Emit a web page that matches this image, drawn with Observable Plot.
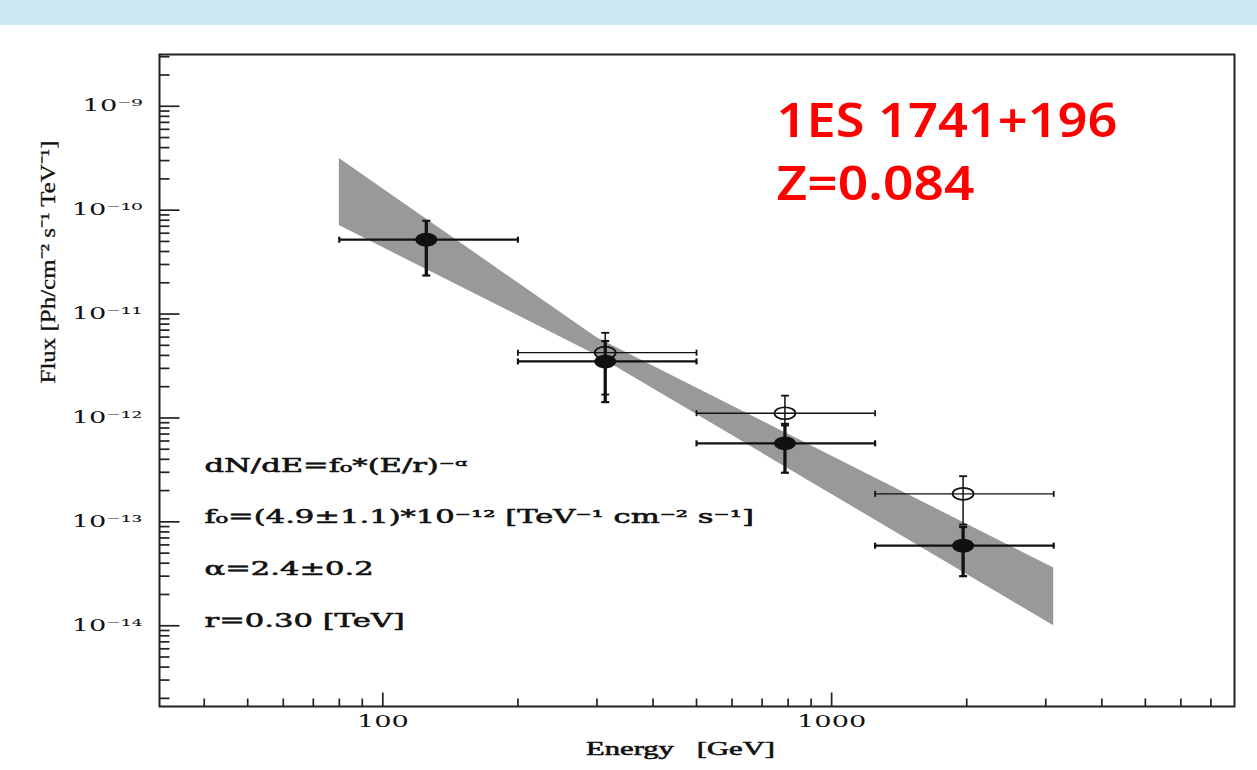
<!DOCTYPE html>
<html>
<head>
<meta charset="utf-8">
<script src="https://cdn.jsdelivr.net/npm/d3@7"></script>
<script src="https://cdn.jsdelivr.net/npm/@observablehq/plot@0.6"></script>
<style>
html, body { margin: 0; padding: 0; background: #fff; }
#page { position: relative; width: 1257px; height: 770px; overflow: hidden; background: #fff; }
#bar { position: absolute; left: 0; top: 0; width: 1257px; height: 25px; background: #cfe8f6; }
#chart { position: absolute; left: 0; top: 25px; }
#chart text { white-space: pre; }
</style>
</head>
<body>
<div id="page"><div id="bar"></div><div id="chart"></div></div>
<script>
// ---- data ----
const energy = [125, 313, 787, 1963];              // GeV, filled points
const binLow = [80, 200, 500, 1250];
const binHigh = [200, 500, 1250, 3125];
const fluxFilled = [5.2e-11, 3.5e-12, 5.7e-13, 5.9e-14];
const fluxFilledHigh = [7.9e-11, 5.5e-12, 8.5e-13, 8.9e-14];
const fluxFilledLow = [2.35e-11, 1.42e-12, 2.97e-13, 3.0e-14];

const openEnergy = [313, 787, 1963];                // open circles
const openBinLow = [200, 500, 1250];
const openBinHigh = [500, 1250, 3125];
const fluxOpen = [4.25e-12, 1.11e-12, 1.86e-13];
const fluxOpenHigh = [6.6e-12, 1.64e-12, 2.75e-13];
const fluxOpenLow = [1.68e-12, 8.8e-13, 9.4e-14];

const bandEnergy = [80, 300, 3125];                 // fit butterfly
const bandLow = [7.1e-11, 4.0e-12, 1.0e-14];
const bandHigh = [3.15e-10, 5.9e-12, 3.6e-14];

const xMajorTicks = [100, 1000];
const xTickLabels = ["100", "1000"];
const xMinorTicks = [40, 50, 60, 70, 80, 90, 200, 300, 400, 500, 600, 700, 800, 900, 2000, 3000, 4000, 5000, 6000, 7000];
const yMajorTicks = [1e-14, 1e-13, 1e-12, 1e-11, 1e-10, 1e-9];
const yTickLabels = ["10⁻¹⁴", "10⁻¹³", "10⁻¹²", "10⁻¹¹", "10⁻¹⁰", "10⁻⁹"];
const yMinorMultipliers = [2, 3, 4, 5, 6, 7, 8, 9];
const yMinorExponents = [-15, -14, -13, -12, -11, -10, -9];

const fitLines = ["dN/dE=f₀*(E/r)⁻ᵅ", "f₀=(4.9±1.1)*10⁻¹² [TeV⁻¹ cm⁻² s⁻¹]", "α=2.4±0.2", "r=0.30 [TeV]"];
const sourceLines = ["1ES 1741+196", "Z=0.084"];
const xTitle = "Energy   [GeV]";
const yTitle = "Flux [Ph/cm⁻² s⁻¹ TeV⁻¹]";

// ---- tables ----
const xDomain = [31.8, 7900];
const yDomain = [1.67e-15, 3.15e-9];
const filledRows = energy.map((E, i) => ({E, lo: binLow[i], hi: binHigh[i], f: fluxFilled[i], fLo: fluxFilledLow[i], fHi: fluxFilledHigh[i]}));
const openRows = openEnergy.map((E, i) => ({E, lo: openBinLow[i], hi: openBinHigh[i], f: fluxOpen[i], fLo: fluxOpenLow[i], fHi: fluxOpenHigh[i]}));
const bandRows = bandEnergy.map((E, i) => ({E, lo: bandLow[i], hi: bandHigh[i]}));
const yMinorTicks = yMinorExponents.flatMap(e => yMinorMultipliers.map(k => k * Math.pow(10, e))).filter(v => v > yDomain[0] && v < yDomain[1]);

// ---- symbols ----
function ellipse(rx, ry) {
  const k = 0.5523;
  return {draw(c) {
    c.moveTo(rx, 0);
    c.bezierCurveTo(rx, ry * k, rx * k, ry, 0, ry);
    c.bezierCurveTo(-rx * k, ry, -rx, ry * k, -rx, 0);
    c.bezierCurveTo(-rx, -ry * k, -rx * k, -ry, 0, -ry);
    c.bezierCurveTo(rx * k, -ry, rx, -ry * k, rx, 0);
    c.closePath();
  }};
}
const hCap = (len) => ({draw(c) { c.moveTo(-len / 2, 0); c.lineTo(len / 2, 0); }});
const vCap = (len) => ({draw(c) { c.moveTo(0, -len / 2); c.lineTo(0, len / 2); }});
const tickRight = (len) => ({draw(c) { c.moveTo(0, 0); c.lineTo(len, 0); }});
const tickUp = (len) => ({draw(c) { c.moveTo(0, 0); c.lineTo(0, -len); }});

const INK = "#111";
const textInk = {fill: INK, stroke: INK, strokeWidth: 0.55};

function errorMarks(rows, hw, vw, capW) {
  return [
    Plot.ruleY(rows, {y: "f", x1: "lo", x2: "hi", stroke: INK, strokeWidth: hw}),
    Plot.ruleX(rows, {x: "E", y1: "fLo", y2: "fHi", stroke: INK, strokeWidth: vw}),
    Plot.dot(rows, {x: "lo", y: "f", symbol: vCap(6), fill: "none", stroke: INK, strokeWidth: capW}),
    Plot.dot(rows, {x: "hi", y: "f", symbol: vCap(6), fill: "none", stroke: INK, strokeWidth: capW}),
    Plot.dot(rows, {x: "E", y: "fLo", symbol: hCap(8), fill: "none", stroke: INK, strokeWidth: capW}),
    Plot.dot(rows, {x: "E", y: "fHi", symbol: hCap(8), fill: "none", stroke: INK, strokeWidth: capW})
  ];
}

const LABEL_SIZE = 46;
const LABEL_LEAD = 63;
const labelWidths = [341, 198];

const plot = Plot.plot({
  width: 1257,
  height: 745,
  marginLeft: 159,
  marginRight: 23,
  marginTop: 29,
  marginBottom: 64,
  x: {type: "log", domain: xDomain},
  y: {type: "log", domain: yDomain},
  style: {fontFamily: "DejaVu Serif", fontSize: "16px", color: "#000", background: "transparent"},
  marks: [
    Plot.areaY(bandRows, {x: "E", y1: "lo", y2: "hi", fill: "#999999"}),
    // axis ticks (inward)
    Plot.dot(yMajorTicks, {y: d => d, frameAnchor: "left", symbol: tickRight(20), fill: "none", stroke: "#222", strokeWidth: 1.7}),
    Plot.dot(yMinorTicks, {y: d => d, frameAnchor: "left", symbol: tickRight(10), fill: "none", stroke: "#222", strokeWidth: 1.7}),
    Plot.dot(xMajorTicks, {x: d => d, frameAnchor: "bottom", symbol: tickUp(14), fill: "none", stroke: "#222", strokeWidth: 1.7}),
    Plot.dot(xMinorTicks, {x: d => d, frameAnchor: "bottom", symbol: tickUp(8), fill: "none", stroke: "#222", strokeWidth: 1.7}),
    Plot.axisY({ticks: yMajorTicks, tickSize: 0, tickPadding: 17, label: null, tickFormat: d => yTickLabels[yMajorTicks.indexOf(d)], fontSize: 16, ...textInk}),
    Plot.axisX({ticks: xMajorTicks, tickSize: 0, tickPadding: 9, label: null, tickFormat: d => xTickLabels[xMajorTicks.indexOf(d)], fontSize: 16, ...textInk}),
    // error bars
    ...errorMarks(openRows, 1.4, 1.5, 1.8),
    ...errorMarks(filledRows, 2.3, 3.3, 2.2),
    Plot.dot(openRows, {x: "E", y: "f", symbol: ellipse(10.5, 6), fill: "none", stroke: INK, strokeWidth: 1.7}),
    Plot.dot(filledRows, {x: "E", y: "f", symbol: ellipse(11, 6.8), fill: INK, stroke: "none"}),
    Plot.frame({stroke: "#222", strokeWidth: 2}),
    // fit annotation
    ...fitLines.map((line, i) => Plot.text([line], {text: d => d, frameAnchor: "top-left", dx: 45, dy: 417 + i * 51.7, lineAnchor: "bottom", textAnchor: "start", fontSize: 18, fontFamily: "DejaVu Serif", ...textInk})),
    // source label
    ...sourceLines.map((line, i) => Plot.text([line], {text: d => d, frameAnchor: "top-left", dx: 617, dy: 82 + i * LABEL_LEAD, lineAnchor: "bottom", textAnchor: "start", fontSize: LABEL_SIZE, fontFamily: "Noto Sans, sans-serif", fontWeight: 600, fill: "#ff0000"})),
    // axis titles
    Plot.text([xTitle], {text: d => d, frameAnchor: "bottom", dx: -16.5, dy: 48, lineAnchor: "bottom", fontSize: 18, fontFamily: "Liberation Serif", ...textInk}),
    Plot.text([yTitle], {text: d => d, frameAnchor: "left", dx: -112, dy: 3, rotate: -90, fontSize: 22, fontFamily: "Liberation Serif", fill: INK, stroke: INK, strokeWidth: 0.3})
  ]
});

document.getElementById("chart").append(plot);

// The original figure is stretched horizontally; reproduce with textLength.
const STRETCH = 1.7;
const stretchSet = new Set([...yTickLabels, ...xTickLabels, ...fitLines, xTitle]);
plot.querySelectorAll("text").forEach(t => {
  if (t.querySelector("tspan")) return;
  const s = t.textContent;
  let target = null;
  if (stretchSet.has(s)) target = t.getComputedTextLength() * STRETCH;
  else if (s === yTitle) target = 243;
  else if (sourceLines.includes(s)) target = labelWidths[sourceLines.indexOf(s)];
  if (target != null) {
    t.setAttribute("textLength", target.toFixed(1));
    t.setAttribute("lengthAdjust", "spacingAndGlyphs");
  }
});
</script>
</body>
</html>
